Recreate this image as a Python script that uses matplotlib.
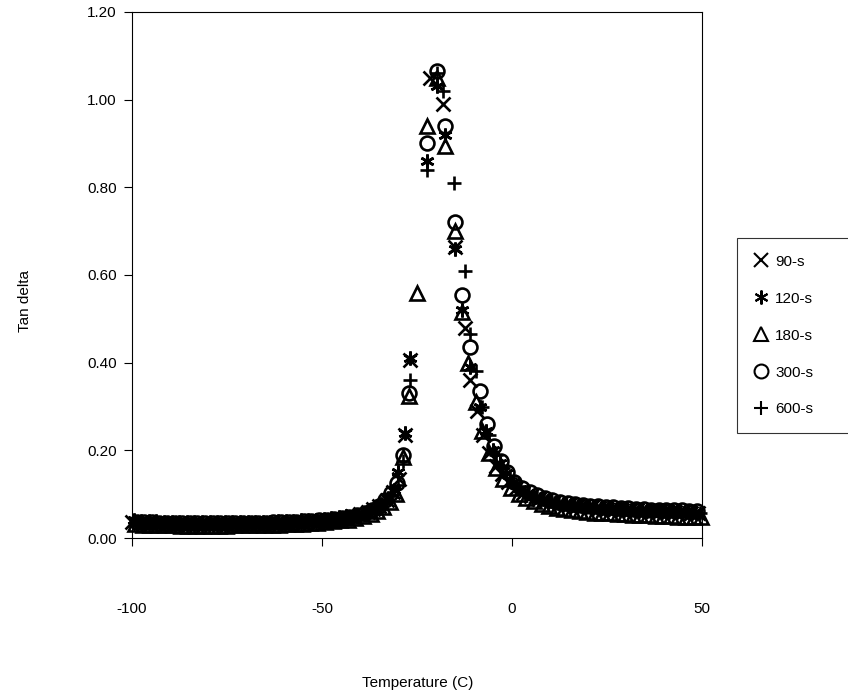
import matplotlib
matplotlib.use('Agg')
import matplotlib.pyplot as plt
from matplotlib.lines import Line2D

plt.rcParams['font.family'] = ['Liberation Sans', 'DejaVu Sans']

# Tan delta vs temperature (C), five cure times
T_90 = [-100, -98, -96, -94, -92, -90, -88, -86, -84, -82, -80, -78, -76, -74, -72, -70, -68, -66, -64, -62,
        -60, -58, -56, -54, -52, -50, -48, -46, -44, -42, -40,
        -38, -36.5, -35, -33, -31.3, -29.7, -28.1, -26.8,
        -21.5, -18.2, -15.0, -12.4, -11.0, -9.3, -7.6, -6.0, -4.3, -2.6, -1.0,
        1, 3, 5, 7, 9, 11, 13, 15, 17, 19, 21, 23, 25, 27, 29, 31, 33, 35, 37, 39, 41, 43, 45, 47, 49]
TD_90 = [0.036, 0.035, 0.035, 0.034, 0.034, 0.034, 0.033, 0.033, 0.033, 0.033, 0.033, 0.033, 0.033, 0.033, 0.034,
         0.034, 0.034, 0.034, 0.035, 0.035, 0.035, 0.036, 0.037, 0.038, 0.039, 0.040, 0.042, 0.044, 0.046, 0.050,
         0.055,
         0.060, 0.066, 0.073, 0.086, 0.104, 0.135, 0.235, 0.405,
         1.05, 0.99, 0.665, 0.48, 0.36, 0.29, 0.235, 0.195, 0.165, 0.145, 0.128,
         0.113, 0.103, 0.096, 0.090, 0.086, 0.082, 0.079, 0.076, 0.074, 0.072, 0.070, 0.069, 0.067, 0.066, 0.065,
         0.064, 0.063, 0.062, 0.062, 0.061, 0.060, 0.059, 0.059, 0.058, 0.057]

T_120 = [-99.6, -97.6, -95.6, -93.6, -91.6, -89.6, -87.6, -85.6, -83.6, -81.6, -79.6, -77.6, -75.6, -73.6, -71.6,
         -69.6, -67.6, -65.6, -63.6, -61.6, -59.6, -57.6, -55.6, -53.6, -51.6, -49.6, -47.6, -45.6, -43.6, -41.6,
         -39.6,
         -37.6, -36.0, -34.6, -32.6, -31.0, -29.9, -28.1, -26.8,
         -22.5, -19.8, -17.6, -15.0, -13.2, -11.0, -8.4, -6.8, -5.0, -3.3, -1.6,
         0.2, 2.2, 4.2, 6.2, 8.2, 10.2, 12.2, 14.2, 16.2, 18.2, 20.2, 22.2, 24.2, 26.2, 28.2, 30.2, 32.2, 34.2,
         36.2, 38.2, 40.2, 42.2, 44.2, 46.2, 48.2]
TD_120 = [0.040, 0.039, 0.038, 0.038, 0.037, 0.037, 0.036, 0.036, 0.036, 0.036, 0.036, 0.036, 0.036, 0.036, 0.036,
          0.037, 0.037, 0.037, 0.037, 0.038, 0.038, 0.039, 0.040, 0.041, 0.042, 0.043, 0.045, 0.047, 0.050, 0.053,
          0.058,
          0.063, 0.069, 0.077, 0.091, 0.109, 0.150, 0.24, 0.41,
          0.86, 1.03, 0.92, 0.66, 0.52, 0.39, 0.30, 0.245, 0.20, 0.17, 0.148,
          0.127, 0.112, 0.102, 0.094, 0.089, 0.085, 0.081, 0.078, 0.076, 0.074, 0.072, 0.071, 0.069, 0.068, 0.067,
          0.066, 0.065, 0.064, 0.064, 0.063, 0.062, 0.061, 0.061, 0.060, 0.059]

T_180 = [-99.2, -97.2, -95.2, -93.2, -91.2, -89.2, -87.2, -85.2, -83.2, -81.2, -79.2, -77.2, -75.2, -73.2, -71.2,
         -69.2, -67.2, -65.2, -63.2, -61.2, -59.2, -57.2, -55.2, -53.2, -51.2, -49.2, -47.2, -45.2, -43.2, -41.2,
         -39.2,
         -37.2, -35.6, -34.0, -32.2, -30.6, -28.6, -27.1, -25.0,
         -22.5, -19.8, -17.6, -15.0, -13.2, -11.6, -9.6, -7.8, -6.0, -4.2, -2.4,
         -0.2, 1.8, 3.8, 5.8, 7.8, 9.8, 11.8, 13.8, 15.8, 17.8, 19.8, 21.8, 23.8, 25.8, 27.8, 29.8, 31.8, 33.8,
         35.8, 37.8, 39.8, 41.8, 43.8, 45.8, 47.8, 49.8]
TD_180 = [0.031, 0.030, 0.030, 0.029, 0.029, 0.029, 0.028, 0.028, 0.028, 0.028, 0.028, 0.028, 0.028, 0.029, 0.029,
          0.029, 0.029, 0.030, 0.030, 0.030, 0.031, 0.032, 0.033, 0.034, 0.035, 0.036, 0.038, 0.040, 0.042, 0.046,
          0.050,
          0.054, 0.061, 0.070, 0.082, 0.100, 0.185, 0.325, 0.56,
          0.94, 1.05, 0.895, 0.70, 0.515, 0.40, 0.31, 0.245, 0.195, 0.160, 0.135,
          0.115, 0.100, 0.091, 0.084, 0.078, 0.073, 0.069, 0.066, 0.064, 0.062, 0.060, 0.058, 0.057, 0.056, 0.055,
          0.054, 0.053, 0.052, 0.052, 0.051, 0.050, 0.050, 0.049, 0.049, 0.048, 0.048]

T_300 = [-98.8, -96.8, -94.8, -92.8, -90.8, -88.8, -86.8, -84.8, -82.8, -80.8, -78.8, -76.8, -74.8, -72.8, -70.8,
         -68.8, -66.8, -64.8, -62.8, -60.8, -58.8, -56.8, -54.8, -52.8, -50.8, -48.8, -46.8, -44.8, -42.8, -40.8,
         -38.8,
         -36.8, -35.0, -33.4, -31.8, -30.2, -28.6, -27.1,
         -22.5, -19.8, -17.6, -15.0, -13.2, -11.0, -8.4, -6.6, -4.8, -3.0, -1.2,
         0.6, 2.6, 4.6, 6.6, 8.6, 10.6, 12.6, 14.6, 16.6, 18.6, 20.6, 22.6, 24.6, 26.6, 28.6, 30.6, 32.6, 34.6,
         36.6, 38.6, 40.6, 42.6, 44.6, 46.6, 48.6]
TD_300 = [0.037, 0.036, 0.036, 0.035, 0.035, 0.034, 0.034, 0.034, 0.034, 0.034, 0.034, 0.034, 0.034, 0.034, 0.035,
          0.035, 0.035, 0.035, 0.036, 0.036, 0.037, 0.037, 0.038, 0.039, 0.040, 0.042, 0.043, 0.046, 0.049, 0.053,
          0.058,
          0.065, 0.074, 0.086, 0.102, 0.125, 0.19, 0.33,
          0.90, 1.065, 0.94, 0.72, 0.555, 0.435, 0.335, 0.26, 0.21, 0.175, 0.15,
          0.128, 0.114, 0.104, 0.097, 0.091, 0.087, 0.083, 0.080, 0.078, 0.076, 0.074, 0.072, 0.071, 0.070, 0.069,
          0.068, 0.067, 0.066, 0.065, 0.065, 0.064, 0.063, 0.063, 0.062, 0.062]

T_600 = [-98.4, -96.4, -94.4, -92.4, -90.4, -88.4, -86.4, -84.4, -82.4, -80.4, -78.4, -76.4, -74.4, -72.4, -70.4,
         -68.4, -66.4, -64.4, -62.4, -60.4, -58.4, -56.4, -54.4, -52.4, -50.4, -48.4, -46.4, -44.4, -42.4, -40.4,
         -38.4,
         -36.4, -34.8, -33.2, -31.6, -30.0, -28.6, -26.8,
         -22.5, -19.8, -18.2, -15.4, -12.3, -11.0, -9.6, -7.8, -6.0, -4.2, -2.4, -0.6,
         1.4, 3.4, 5.4, 7.4, 9.4, 11.4, 13.4, 15.4, 17.4, 19.4, 21.4, 23.4, 25.4, 27.4, 29.4, 31.4, 33.4, 35.4,
         37.4, 39.4, 41.4, 43.4, 45.4, 47.4, 49.4]
TD_600 = [0.034, 0.033, 0.033, 0.032, 0.032, 0.032, 0.032, 0.031, 0.031, 0.031, 0.031, 0.031, 0.032, 0.032, 0.032,
          0.032, 0.033, 0.033, 0.033, 0.034, 0.034, 0.035, 0.036, 0.036, 0.037, 0.039, 0.040, 0.043, 0.046, 0.049,
          0.054,
          0.060, 0.068, 0.080, 0.097, 0.12, 0.175, 0.36,
          0.84, 1.06, 1.02, 0.81, 0.61, 0.465, 0.38, 0.30, 0.235, 0.19, 0.16, 0.138,
          0.118, 0.105, 0.096, 0.090, 0.085, 0.081, 0.078, 0.075, 0.073, 0.071, 0.069, 0.068, 0.066, 0.065, 0.064,
          0.063, 0.062, 0.061, 0.061, 0.060, 0.059, 0.059, 0.058, 0.057, 0.057]

SERIES = [
    ("90-s", T_90, TD_90, "x"),
    ("120-s", T_120, TD_120, (6, 2, 0)),
    ("180-s", T_180, TD_180, "^"),
    ("300-s", T_300, TD_300, "o"),
    ("600-s", T_600, TD_600, "+"),
]

X_TICKS = [-100, -50, 0, 50]
Y_TICKS = [0.0, 0.2, 0.4, 0.6, 0.8, 1.0, 1.2]

fig = plt.figure(figsize=(8.48, 7.0), dpi=100)
fig.patch.set_facecolor("white")
ax = fig.add_axes([0.1557, 0.2314, 0.6722, 0.7515])

handles = []
for label, t, td, mk in SERIES:
    ax.plot(t, td, linestyle="none", marker=mk, markersize=10, markerfacecolor="none",
            markeredgecolor="black", markeredgewidth=1.9, clip_on=False)
    handles.append(Line2D([], [], linestyle="none", marker=mk, markersize=10, markerfacecolor="none",
                          markeredgecolor="black", markeredgewidth=1.5, label=label))

ax.set_xlim(-100, 50)
ax.set_ylim(0, 1.2)
ax.set_xticks(X_TICKS)
ax.set_xticklabels([str(v) for v in X_TICKS], fontsize=11)
ax.set_yticks(Y_TICKS)
ax.set_yticklabels([f"{v:.2f}" for v in Y_TICKS], fontsize=11)
ax.tick_params(axis="x", direction="out", length=6, width=0.8, pad=40)
ax.tick_params(axis="y", direction="out", length=6, width=0.8, pad=5)
for sp in ax.spines.values():
    sp.set_linewidth(0.8)
    sp.set_color("black")

fig.text(0.029, 0.57, "Tan delta", rotation=90, ha="center", va="center", fontsize=11)
fig.text(0.493, 0.014, "Temperature (C)", ha="center", va="bottom", fontsize=11)

leg = fig.legend(handles=handles, loc="upper left", bbox_to_anchor=(0.869, 0.66, 0.25, 0.0),
                 mode="expand", frameon=True, fancybox=False, fontsize=11, labelspacing=1.5,
                 handletextpad=0.4, handlelength=1.0, borderpad=1.1, borderaxespad=0)
leg.get_frame().set_edgecolor("black")
leg.get_frame().set_linewidth(0.8)

fig.savefig("out.png", dpi=100, facecolor="white")
